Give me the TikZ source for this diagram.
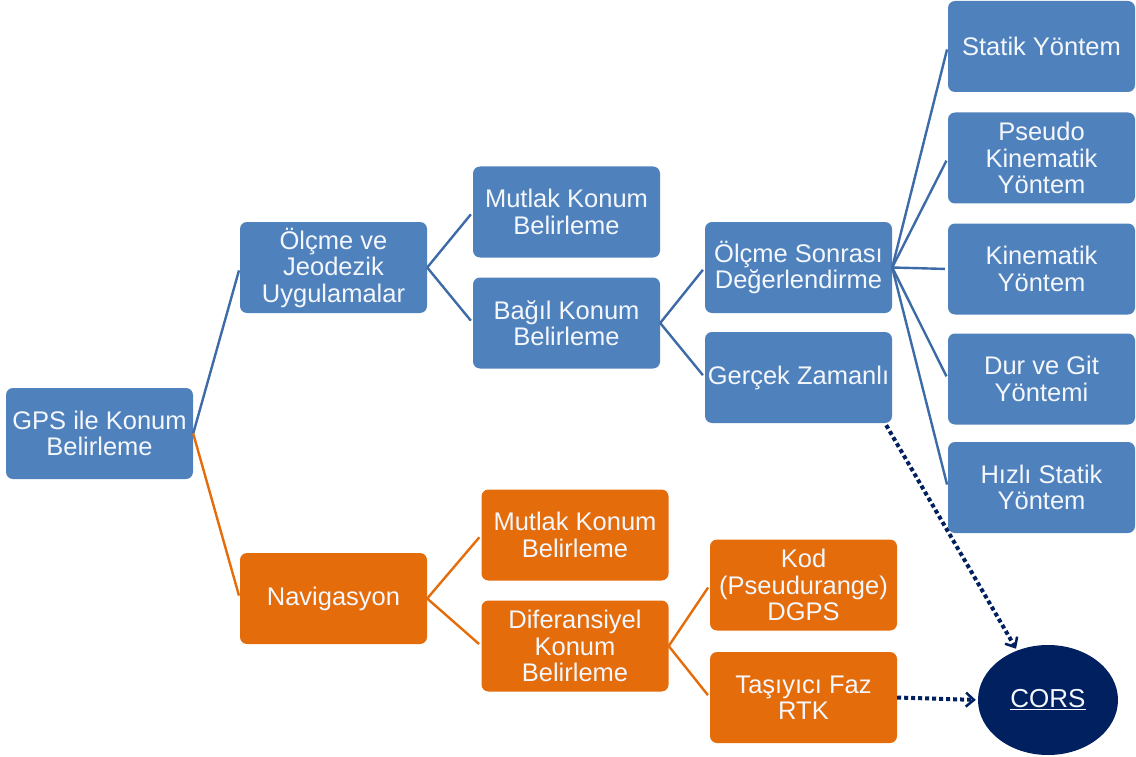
\documentclass[tikz,border=0pt]{standalone}
\usepackage{fontspec}
\setmainfont{Liberation Sans}
\usetikzlibrary{arrows.meta,shapes.geometric}
\definecolor{bfill}{HTML}{4F81BD}
\definecolor{bline}{HTML}{3D6BA8}
\definecolor{ofill}{HTML}{E46C0A}
\definecolor{oline}{HTML}{E46C0A}
\definecolor{navy}{HTML}{002060}
\definecolor{txt}{HTML}{F4F7FC}
\tikzset{
  box/.style={rectangle, rounded corners=7pt, minimum width=187pt, minimum height=91pt,
    inner sep=1pt, align=center, text=txt, font=\fontsize{25.5}{26.5}\selectfont},
  bbox/.style={box, fill=bfill},
  obox/.style={box, fill=ofill},
  blink/.style={draw=bline, line width=2.4pt, shorten >=3pt},
  olink/.style={draw=oline, line width=2.4pt, shorten >=3pt},
  dotlink/.style={draw=navy, line width=4pt, dash pattern=on 4pt off 3pt,
    -{Straight Barb[length=8pt,width=14pt,line width=2.5pt]}, shorten >=2pt}
}
\begin{document}
\begin{tikzpicture}[x=1pt,y=-1pt]
\useasboundingbox (0,0) rectangle (1136,757);
\node[bbox] (gps) at (99.5,433.5) {GPS ile Konum\\Belirleme};
\node[bbox] (olc) at (333.5,267.5) {Ölçme ve\\Jeodezik\\Uygulamalar};
\node[obox] (nav) at (333.5,598.5) {Navigasyon};
\node[bbox] (mk1) at (566.5,212) {Mutlak Konum\\Belirleme};
\node[bbox] (bag) at (566.5,323) {Bağıl Konum\\Belirleme};
\node[bbox] (ols) at (798.5,267.5) {Ölçme Sonrası\\Değerlendirme};
\node[bbox] (ger) at (798.5,377.5) {Gerçek Zamanlı};
\node[bbox] (sta) at (1041.5,46.5) {Statik Yöntem};
\node[bbox] (pse) at (1041.5,158) {Pseudo\\Kinematik\\Yöntem};
\node[bbox] (kin) at (1041.5,269) {Kinematik\\Yöntem};
\node[bbox] (dur) at (1041.5,379) {Dur ve Git\\Yöntemi};
\node[bbox] (hiz) at (1041.5,487.5) {Hızlı Statik\\Yöntem};
\node[obox] (mk2) at (575,535) {Mutlak Konum\\Belirleme};
\node[obox] (dif) at (575,646) {Diferansiyel\\Konum\\Belirleme};
\node[obox] (kod) at (803.5,585) {Kod\\(Pseudurange)\\DGPS};
\node[obox] (tas) at (803.5,697.5) {Taşıyıcı Faz\\RTK};
\node[ellipse, fill=navy, minimum width=140pt, minimum height=110pt, inner sep=0pt,
  text=txt, font=\fontsize{26}{28}\selectfont] (cors) at (1048,700) {\underline{CORS}};
% connectors
\draw[blink] (gps.east) -- (olc.west);
\draw[olink] (gps.east) -- (nav.west);
\draw[blink] (olc.east) -- (mk1.west);
\draw[blink] (olc.east) -- (bag.west);
\draw[blink] (bag.east) -- (ols.west);
\draw[blink] (bag.east) -- (ger.west);
\foreach \c in {sta,pse,kin,dur,hiz} \draw[blink] (ols.east) -- (\c.west);
\draw[olink] (nav.east) -- (mk2.west);
\draw[olink] (nav.east) -- (dif.west);
\draw[olink] (dif.east) -- (kod.west);
\draw[olink] (dif.east) -- (tas.west);
\draw[dotlink] ([xshift=-6pt,yshift=-2pt]ger.south east) -- (cors.122);
\draw[dotlink] (tas.east) -- (cors.west);
\end{tikzpicture}
\end{document}
